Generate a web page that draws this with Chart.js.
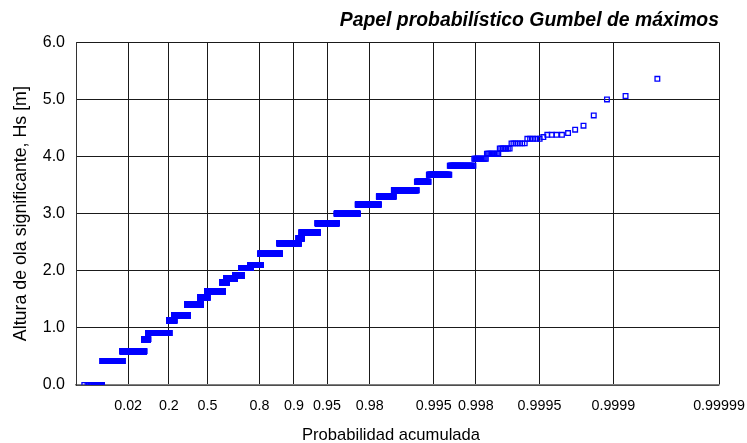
<!DOCTYPE html>
<html>
<head>
<meta charset="utf-8">
<script src="https://cdn.jsdelivr.net/npm/chart.js@4.4.1/dist/chart.umd.min.js"></script>
<style>
  html, body { margin: 0; padding: 0; background: #fff; }
  #grafico { display: block; }
</style>
</head>
<body>
<canvas id="grafico" width="747" height="443"></canvas>
<script>
// Distinct significant wave heights in the record (m), sorted ascending
const alturas = [0.00, 0.42, 0.59, 0.80, 0.91, 1.13, 1.22, 1.41, 1.53, 1.64,
                 1.80, 1.87, 1.92, 2.05, 2.10, 2.30, 2.48, 2.57, 2.67, 2.83,
                 3.00, 3.16, 3.30, 3.41, 3.56, 3.68, 3.84, 3.96, 4.05, 4.14,
                 4.23, 4.31, 4.34, 4.38, 4.41, 4.47, 4.54, 4.72, 5.00, 5.06, 5.36];
// Number of records observed at each of those heights
const registros = [26, 285, 1344, 425, 3193, 949, 2707, 2709, 1349, 2848,
                   673, 1331, 922, 1138, 1086, 1612, 1133, 144, 634, 529,
                   386, 247, 119, 122, 43, 53, 38, 13, 10, 7,
                   7, 5, 1, 4, 1, 1, 1, 1, 1, 1, 1];
// Probability ticks of the Gumbel paper
const probTicks = [0.02, 0.2, 0.5, 0.8, 0.9, 0.95, 0.98, 0.995, 0.998, 0.9995, 0.9999, 0.99999];
const probLabels = ['0.02', '0.2', '0.5', '0.8', '0.9', '0.95', '0.98', '0.995', '0.998', '0.9995', '0.9999', '0.99999'];
const alturaTicks = [0, 1, 2, 3, 4, 5, 6];

const FAMILIA = 'Arial, "Liberation Sans", sans-serif';

// Gumbel reduced variate: the paper is linear in y = -ln(-ln F)
const gumbel = p => -Math.log(-Math.log(p));

// Each record plotted at its Weibull plotting position i/(N+1)
const N = registros.reduce((a, b) => a + b, 0);
const puntos = [];
let rango = 0;
alturas.forEach((h, k) => {
  for (let j = 0; j < registros[k]; j++) {
    rango++;
    puntos.push({ x: gumbel(rango / (N + 1)), y: h });
  }
});

// Axis titles placed to the side of the plot
const titulosEjes = {
  id: 'titulosEjes',
  afterDraw(chart) {
    const { ctx, chartArea } = chart;
    ctx.save();
    ctx.fillStyle = '#000';
    ctx.textAlign = 'center';
    ctx.textBaseline = 'alphabetic';
    ctx.font = '16.6px ' + FAMILIA;
    ctx.fillText('Probabilidad acumulada', chartArea.left + 315, chartArea.bottom + 55);
    ctx.font = '17.8px ' + FAMILIA;
    ctx.translate(26, (chartArea.top + chartArea.bottom) / 2);
    ctx.rotate(-Math.PI / 2);
    ctx.fillText('Altura de ola significante, Hs [m]', 0, 0);
    ctx.restore();
  }
};

new Chart(document.getElementById('grafico'), {
  type: 'scatter',
  data: {
    datasets: [{
      data: puntos,
      pointStyle: 'rect',
      pointRadius: 3.3,
      pointHoverRadius: 3.3,
      borderWidth: 1.3,
      borderColor: '#0000ff',
      backgroundColor: 'rgba(0,0,0,0)'
    }]
  },
  options: {
    responsive: false,
    animation: false,
    events: [],
    parsing: false,
    normalized: true,
    layout: { padding: { left: 0, right: 28, top: 0, bottom: 0 } },
    plugins: {
      legend: { display: false },
      tooltip: { enabled: false },
      title: {
        display: true,
        text: 'Papel probabilístico Gumbel de máximos',
        align: 'end',
        color: '#000',
        font: { family: FAMILIA, size: 19.4, weight: 'bold', style: 'italic', lineHeight: 1.2 },
        padding: { top: 9, bottom: 10 }
      }
    },
    scales: {
      x: {
        type: 'linear',
        min: -2.5,
        max: gumbel(0.99999),
        afterBuildTicks: s => { s.ticks = probTicks.map(p => ({ value: gumbel(p) })); },
        afterFit: s => { s.height = 58; s.paddingLeft = 0; s.paddingRight = 0; },
        grid: { color: '#1a1a1a', lineWidth: 1, drawTicks: false },
        border: { color: '#808080', width: 1.5 },
        ticks: {
          autoSkip: false, maxRotation: 0, minRotation: 0, padding: 12, color: '#000',
          font: { family: FAMILIA, size: 14.3 },
          callback: (v, i) => probLabels[i]
        }
      },
      y: {
        type: 'linear',
        min: 0,
        max: 6,
        afterBuildTicks: s => { s.ticks = alturaTicks.map(v => ({ value: v })); },
        afterFit: s => { s.width = 76; },
        grid: { color: '#1a1a1a', lineWidth: 1, drawTicks: false },
        border: { color: '#333', width: 1 },
        ticks: {
          padding: 11, color: '#000',
          font: { family: FAMILIA, size: 16 },
          callback: v => v.toFixed(1)
        }
      }
    }
  },
  plugins: [titulosEjes]
});
</script>
</body>
</html>
